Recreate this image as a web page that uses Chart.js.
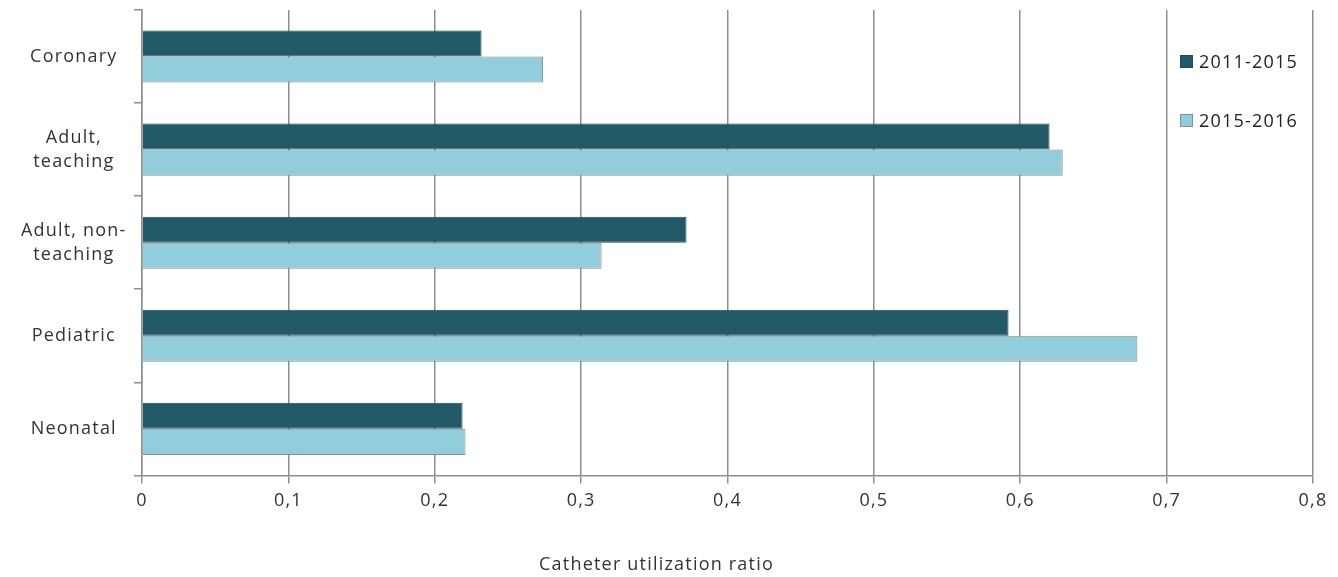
<!DOCTYPE html>
<html>
<head>
<meta charset="utf-8">
<script src="https://cdn.jsdelivr.net/npm/chart.js@4"></script>
<style>
  body { margin: 0; background: #fff; }
  #wrap { position: relative; width: 1338px; height: 577px; }
  .leg { position: absolute; left: 1180px; font: 18px "Open Sans", sans-serif; letter-spacing: 1.2px; color: #222; display: flex; align-items: center; }
  .leg span.box { display: inline-block; width: 13px; height: 13px; margin-right: 6px; box-sizing: border-box; }
</style>
</head>
<body>
<div id="wrap">
  <canvas id="cathChart" width="1338" height="577"></canvas>
  <div class="leg" style="top:49px"><span class="box" style="background:#215967;border:1px solid #1d4f5b"></span>2011-2015</div>
  <div class="leg" style="top:108px"><span class="box" style="background:#92cddc;border:1px solid #8c8c8c"></span>2015-2016</div>
</div>
<script>
// Kategorier og verdier lest av bildet
const categories = ["Coronary", ["Adult,", "teaching"], ["Adult, non-", "teaching"], "Pediatric", "Neonatal"];
const seriesNames = ["2011-2015", "2015-2016"];
const period1 = [0.232, 0.62, 0.372, 0.592, 0.219];
const period2 = [0.274, 0.629, 0.314, 0.68, 0.221];
const xTicks = [0, 0.1, 0.2, 0.3, 0.4, 0.5, 0.6, 0.7, 0.8];

const gridColor = "#8e8e8e";
const font = { family: "'Open Sans', sans-serif", size: 18 };

// Litt bredere tekst, som i originalen
const spacingPlugin = {
  id: "letterSpacing",
  beforeDraw(chart) {
    chart.ctx.letterSpacing = "1.2px";
  },
};

const ctx = document.getElementById("cathChart");
const chart = new Chart(ctx, {
  type: "bar",
  data: {
    labels: categories,
    datasets: [
      {
        label: seriesNames[0],
        data: period1,
        backgroundColor: "#215967",
        borderColor: "#1d4f5b",
        borderWidth: 1,
      },
      {
        label: seriesNames[1],
        data: period2,
        backgroundColor: "#92cddc",
        borderColor: "#8c8c8c",
        borderWidth: 1,
      },
    ],
  },
  plugins: [spacingPlugin],
  options: {
    indexAxis: "y",
    responsive: false,
    animation: false,
    categoryPercentage: 0.56,
    barPercentage: 1,
    layout: { padding: { top: 10, right: 25, left: 0, bottom: 0 } },
    plugins: {
      legend: { display: false },
      tooltip: { enabled: false },
      title: {
        display: true,
        position: "bottom",
        text: "Catheter utilization ratio",
        color: "#333",
        font: { family: font.family, size: 18, weight: "normal" },
        padding: { top: 0, bottom: 1 },
      },
    },
    scales: {
      x: {
        min: 0,
        max: 0.8,
        afterBuildTicks: (axis) => {
          axis.ticks = xTicks.map((v) => ({ value: v }));
        },
        afterFit: (axis) => {
          axis.height = 79;
        },
        ticks: {
          color: "#333",
          font: font,
          padding: 7,
          maxRotation: 0,
          callback: (v) => String(Math.round(v * 10) / 10).replace(".", ","),
        },
        grid: {
          color: gridColor,
          lineWidth: 1.5,
          tickLength: 8,
        },
        border: { color: gridColor, width: 1.5 },
      },
      y: {
        afterFit: (axis) => {
          axis.width = 142;
          axis.paddingTop = 0;
          axis.paddingBottom = 0;
        },
        ticks: {
          color: "#333",
          font: { family: font.family, size: 18, lineHeight: 1.35 },
          crossAlign: "center",
          padding: 14,
        },
        grid: {
          offset: true,
          drawOnChartArea: false,
          color: gridColor,
          lineWidth: 1.5,
          tickLength: 8,
        },
        border: { color: gridColor, width: 1.5 },
      },
    },
  },
});
</script>
</body>
</html>
